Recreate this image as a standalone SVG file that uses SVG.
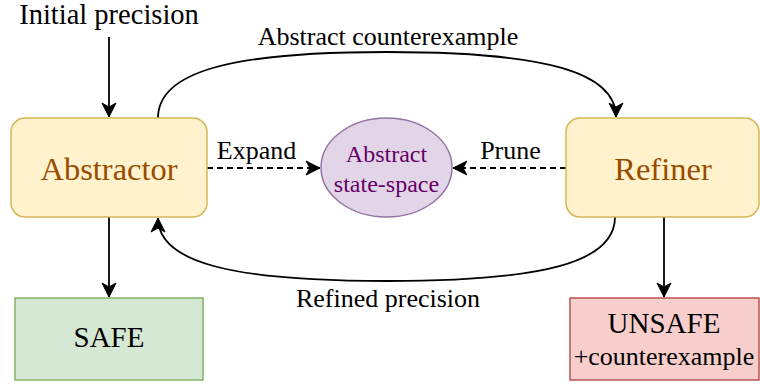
<svg xmlns="http://www.w3.org/2000/svg" width="760" height="385" viewBox="0 0 760 385">
<defs>
<style>
text{font-family:'Liberation Serif','Times New Roman',serif;text-anchor:middle;fill:#000}
.lbl{font-size:26px}
.big{font-size:32.5px;fill:#994C00}
.res{font-size:29px}
.ell{font-size:24px;fill:#660066}
.edge{fill:none;stroke:#000;stroke-width:1.8}
.dash{stroke-dasharray:6 4}
</style>
<marker id="arr" viewBox="0 0 16 16" refX="15" refY="8" markerWidth="16" markerHeight="16" markerUnits="userSpaceOnUse" orient="auto">
<path d="M1,1 L15,8 L1,15 L5,8 z" fill="#000" stroke="#000" stroke-width="1"/>
</marker>
</defs>
<rect width="760" height="385" fill="#fff"/>
<g id="connectors">
<path class="edge" d="M109,37 L109,117" marker-end="url(#arr)"/>
<path class="edge" d="M109,217 L109,297" marker-end="url(#arr)"/>
<path class="edge" d="M664,217 L664,297" marker-end="url(#arr)"/>
<path class="edge" d="M158,118 C158,72 230,52 387,52 C545,52 616,72 616,117" marker-end="url(#arr)"/>
<path class="edge" d="M615,217 C615,262 545,281 387,281 C230,281 158,262 158,218" marker-end="url(#arr)"/>
<path class="edge dash" d="M207,168 L320,168" marker-end="url(#arr)"/>
<path class="edge dash" d="M566,168 L453,168" marker-end="url(#arr)"/>
<text class="lbl" x="388" y="45">Abstract counterexample</text>
<text class="lbl" x="388" y="307">Refined precision</text>
<text class="lbl" x="256.5" y="159">Expand</text>
<text class="lbl" x="510.5" y="159">Prune</text>
</g>
<g id="initial">
<text x="109" y="24" style="font-size:28.5px">Initial precision</text>
</g>
<g id="abstractor">
<rect x="11" y="118" width="196" height="99" rx="14" fill="#fff2cc" stroke="#d6b656" stroke-width="1.5"/>
<text class="big" x="109" y="180">Abstractor</text>
</g>
<g id="refiner">
<rect x="566" y="118" width="193" height="99" rx="14" fill="#fff2cc" stroke="#d6b656" stroke-width="1.5"/>
<text class="big" x="663" y="180">Refiner</text>
</g>
<g id="statespace">
<ellipse cx="386.5" cy="167.5" rx="65.5" ry="49.5" fill="#e1d5e7" stroke="#9673a6" stroke-width="1.5"/>
<text class="ell" x="386.5" y="162">Abstract</text>
<text class="ell" x="386.5" y="192">state-space</text>
</g>
<g id="safe">
<rect x="15" y="298" width="188" height="82" fill="#d5e8d4" stroke="#82b366" stroke-width="1.5"/>
<text class="res" x="109" y="347">SAFE</text>
</g>
<g id="unsafe">
<rect x="570" y="298" width="189" height="82" fill="#f8cecc" stroke="#b85450" stroke-width="1.5"/>
<text class="res" x="664" y="333">UNSAFE</text>
<text class="lbl" x="664" y="365">+counterexample</text>
</g>
</svg>
